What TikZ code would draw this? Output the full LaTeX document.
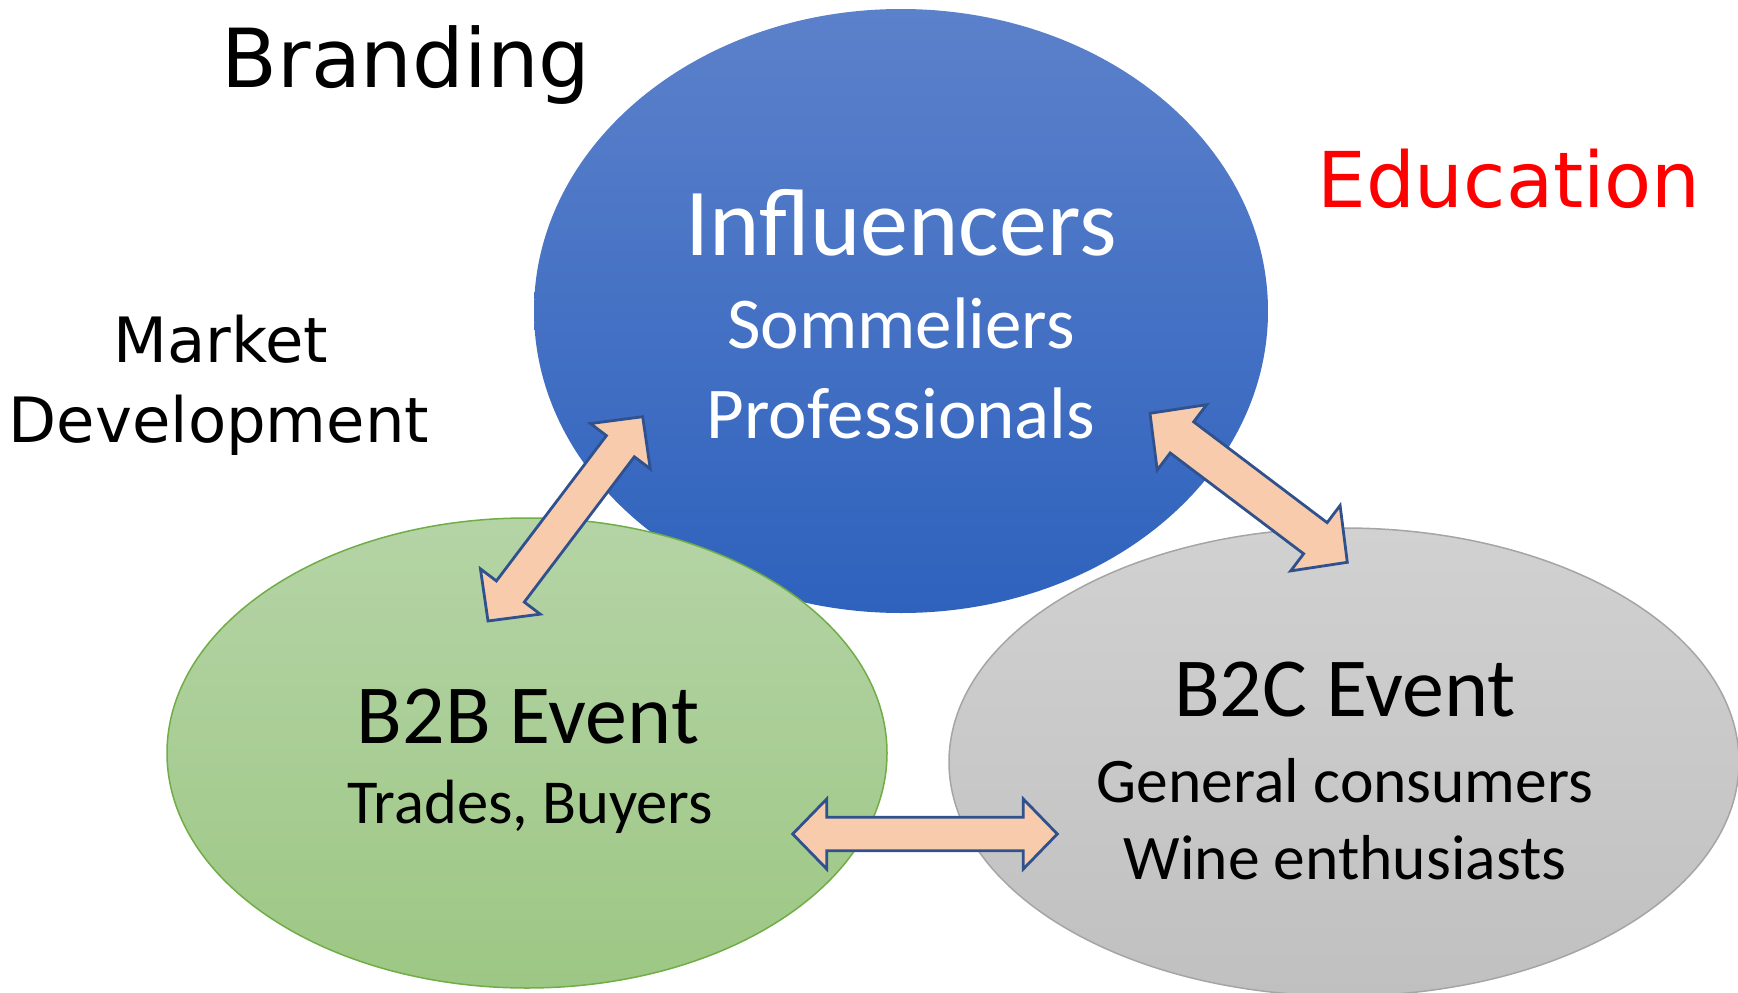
\documentclass[tikz,border=0pt]{standalone}
\usepackage{fontspec}
\setmainfont{Carlito}
\newfontfamily\sidefont{DejaVu Sans}
\usetikzlibrary{shapes.geometric, calc, positioning}
\definecolor{inftop}{RGB}{92,129,203}
\definecolor{infbot}{RGB}{46,98,189}
\definecolor{btbtop}{RGB}{181,212,166}
\definecolor{btbbot}{RGB}{157,199,132}
\definecolor{btbline}{RGB}{112,173,71}
\definecolor{btctop}{RGB}{209,209,209}
\definecolor{btcbot}{RGB}{192,192,192}
\definecolor{btcline}{RGB}{165,165,165}
\definecolor{arrowfill}{RGB}{248,203,173}
\definecolor{arrowline}{RGB}{47,82,143}
\newcommand{\dblarrow}[5]{%
  \draw[blockarrow] (#1)
    -- ($(#1)!#5!(#2)!#4!90:(#2)$)
    -- ($(#1)!#5!(#2)!#3!90:(#2)$)
    -- ($(#2)!#5!(#1)!#3!-90:(#1)$)
    -- ($(#2)!#5!(#1)!#4!-90:(#1)$)
    -- (#2)
    -- ($(#2)!#5!(#1)!#4!90:(#1)$)
    -- ($(#2)!#5!(#1)!#3!90:(#1)$)
    -- ($(#1)!#5!(#2)!#3!-90:(#2)$)
    -- ($(#1)!#5!(#2)!#4!-90:(#2)$)
    -- cycle;}
\begin{document}
\begin{tikzpicture}[x=1pt, y=-1pt,
  blob/.style={ellipse, inner sep=0pt},
  head/.style={font=\fontsize{84}{100}\selectfont, anchor=base, inner sep=0pt},
  sub/.style={font=\fontsize{63.5}{76}\selectfont, anchor=base, inner sep=0pt},
  side/.style={font=\sidefont\fontsize{62.5}{76}\selectfont, anchor=base, inner sep=0pt},
  blockarrow/.style={fill=arrowfill, draw=arrowline, line width=2.8pt, line join=miter}]
\useasboundingbox (0,0) rectangle (1738,993);
\node[blob, top color=inftop, bottom color=infbot, minimum width=734pt, minimum height=604pt] (inf) at (901,311) {};
\node[blob, top color=btbtop, bottom color=btbbot, draw=btbline, line width=1.5pt, minimum width=720pt, minimum height=470pt] (b2b) at (527,753) {};
\node[blob, top color=btctop, bottom color=btcbot, draw=btcline, line width=1.5pt, minimum width=790pt, minimum height=468pt] (b2c) at (1344,762) {};
\node[head, text=white, font=\fontsize{96}{110}\selectfont] (infA) at (901,255) {Influencers};
\node[sub, text=white, font=\fontsize{73}{86}\selectfont] (infB) at (901,348) {Sommeliers};
\node[sub, text=white, font=\fontsize{73}{86}\selectfont] (infC) at (901,438) {Professionals};
\node[head] (b2bA) at (528,743) {B2B Event};
\node[sub, font=\fontsize{62.5}{74}\selectfont] (b2bB) at (530,823) {Trades, Buyers};
\node[head] (b2cA) at (1345,716) {B2C Event};
\node[sub] (b2cB) at (1345,802) {General consumers};
\node[sub] (b2cC) at (1345,879) {Wine enthusiasts};
\node[side, font=\sidefont\fontsize{81.5}{96}\selectfont] (brand) at (406,87) {Branding};
\node[side, text=red, font=\sidefont\fontsize{77}{92}\selectfont] (edu) at (1509,207) {Education};
\node[side] (market) at (221,362) {Market};
\node[side] (devel) at (219,442) {Development};
\coordinate (infL) at (642.7,416.7);
\coordinate (b2bT) at (488,621);
\coordinate (infR) at (1150,413.3);
\coordinate (b2cT) at (1347.3,562.3);
\coordinate (b2bR) at (792.7,834);
\coordinate (b2cL) at (1057.3,834);
\dblarrow{infL}{b2bT}{17.5pt}{37.5pt}{37pt}
\dblarrow{infR}{b2cT}{19.5pt}{41pt}{40pt}
\dblarrow{b2bR}{b2cL}{16.7pt}{35pt}{34pt}
\end{tikzpicture}
\end{document}
